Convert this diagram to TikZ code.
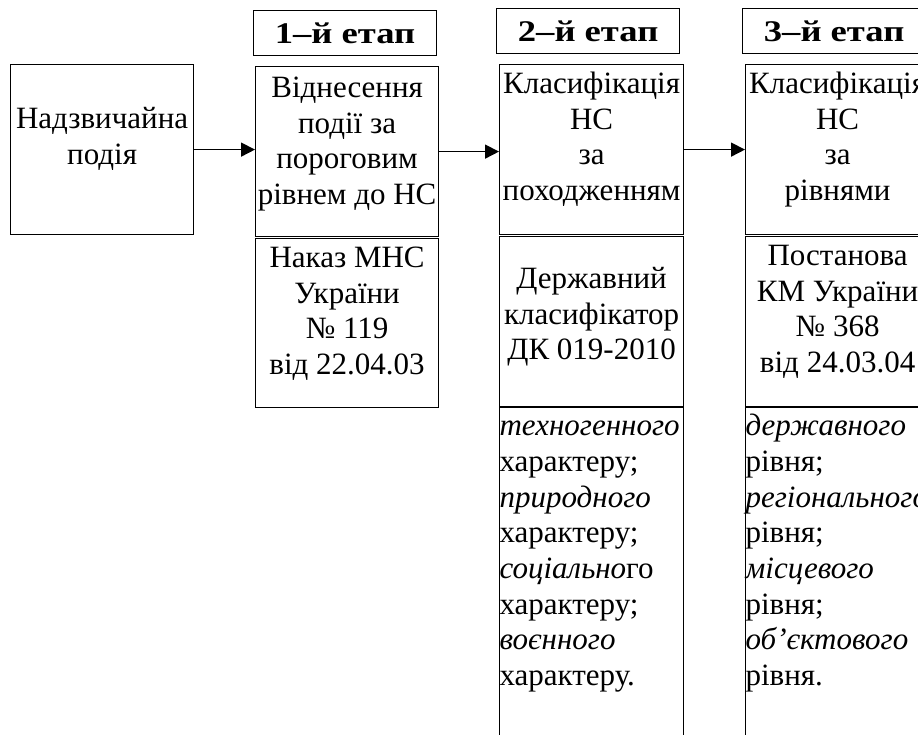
\documentclass[tikz,border=0pt]{standalone}
\usepackage{fontspec}
\setmainfont{Liberation Serif}
\newfontfamily\headfont[FakeStretch=1.22]{Liberation Serif}
\usetikzlibrary{arrows.meta}
\usetikzlibrary{positioning}

% text of a box: width, height, first baseline, lines
\newcommand{\celltext}[4]{\parbox[t][#2][t]{#1}{\centering\rule{0pt}{#3}#4}}

\tikzset{
  cell/.style={draw, line width=1.2pt, inner sep=0pt, anchor=north west},
  head/.style={draw, line width=1.2pt, inner sep=0pt, anchor=north west,
    minimum width=183pt, minimum height=45pt,
    font=\fontsize{30}{34}\headfont\bfseries},
  arr/.style={line width=1.6pt, -{Triangle[length=14pt,width=14pt]}}
}

\begin{document}
\begin{tikzpicture}[x=1pt, y=-1pt, font=\fontsize{31}{35.7}\selectfont]
  \useasboundingbox (0,0) rectangle (918,735);
  \clip (0,0) rectangle (918,735);

  % Draw the event box
  \node[cell] (podiya) at (10,64) {\celltext{183pt}{170pt}{64pt}{Надзвичайна\\подія}};

  % Draw the stage headers
  \node[head] (etap1) at (253,10) {1–й етап};
  \node[head] (etap2) at (496,8) {2–й етап};
  \node[head] (etap3) at (742,8) {3–й етап};

  % Stage 1
  \node[cell] (zmist1) at (255,66) {\celltext{183pt}{170pt}{31pt}{Віднесення\\події за\\пороговим\\рівнем до НС}};
  \node[cell] (dok1) at (255,238) {\celltext{183pt}{169pt}{29pt}{Наказ МНС\\України\\№ 119\\від 22.04.03}};

  % Stage 2
  \node[cell] (zmist2) at (499,64) {\celltext{184pt}{170pt}{29pt}{Класифікація\\НС\\за\\походженням}};
  \node[cell] (dok2) at (499,236) {\celltext{184pt}{170pt}{52pt}{Державний\\класифікатор\\ДК 019-2010}};
  \node[cell] (vydy2) at (499,407) {\celltext{184pt}{400pt}{28pt}{\raggedright
    \textit{техногенного}\\характеру;\\\textit{природного}\\характеру;\\
    \textit{соціально}го\\характеру;\\\textit{воєнного}\\характеру.}};

  % Stage 3
  \node[cell] (zmist3) at (745,64) {\celltext{184pt}{170pt}{29pt}{Класифікація\\НС\\за\\рівнями}};
  \node[cell] (dok3) at (745,236) {\celltext{184pt}{170pt}{29pt}{Постанова\\КМ України\\№ 368\\від 24.03.04}};
  \node[cell] (vydy3) at (745,407) {\celltext{184pt}{400pt}{28pt}{\raggedright
    \textit{державного}\\рівня;\\\textit{регіонального}\\рівня;\\
    \textit{місцевого}\\рівня;\\\textit{об’єктового}\\рівня.}};

  % Draw the arrows between the stages
  \draw[arr] (podiya.east) -- (podiya.east -| zmist1.west);
  \draw[arr] (zmist1.east) -- (zmist1.east -| zmist2.west);
  \draw[arr] (zmist2.east) -- (zmist2.east -| zmist3.west);
\end{tikzpicture}
\end{document}
